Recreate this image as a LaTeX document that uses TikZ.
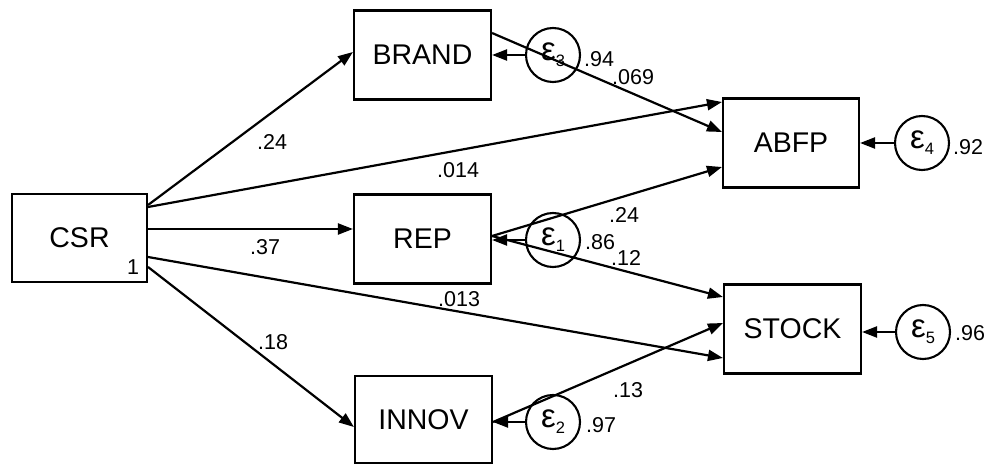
\documentclass[tikz,border=0pt]{standalone}
\usepackage{fontspec}
\setmainfont{Liberation Sans}
\usetikzlibrary{arrows.meta}

\begin{document}
\begin{tikzpicture}[x=1pt,y=-1pt,
  var/.style={draw, line width=2.1pt, minimum width=137pt, minimum height=89pt,
    inner sep=0pt, font=\fontsize{28.5}{30}\selectfont},
  err/.style={draw, circle, line width=2.1pt, minimum size=54pt, inner sep=0pt},
  coef/.style={font=\fontsize{21.5}{24}\selectfont, inner sep=0pt, anchor=west},
  path/.style={line width=2.2pt, -{Triangle[length=15pt,width=11pt]}},
]
\useasboundingbox (0,0) rectangle (999,465);

% observed variables
\node[var, minimum width=135pt, minimum height=88pt] (CSR) at (79.5,238) {CSR};
\node[var] (BRAND) at (422.5,55) {BRAND};
\node[var] (REP)   at (422.5,239) {REP};
\node[var, minimum height=87pt] (INNOV) at (423.5,419.5) {INNOV};
\node[var, minimum width=136pt] (ABFP)  at (791,143) {ABFP};
\node[var] (STOCK) at (792.5,329) {STOCK};
\node[coef] (one) at (127,267) {1};

% error terms
\newcommand{\errlabel}[1]{{\fontsize{33}{33}\selectfont ε}\raisebox{-6pt}{\fontsize{16.5}{16.5}\selectfont #1}}
\node[err] (e3) at (553,55)  {\errlabel{3}};
\node[err] (e1) at (553,240) {\errlabel{1}};
\node[err] (e2) at (553,422) {\errlabel{2}};
\node[err] (e4) at (922,143) {\errlabel{4}};
\node[err] (e5) at (923,332) {\errlabel{5}};

% paths from CSR
\draw[path] ([yshift=33pt]CSR.east) -- ([yshift=3pt]BRAND.west);
\draw[path] ([yshift=31pt]CSR.east) -- ([yshift=41pt]ABFP.west);
\draw[path] ([yshift=9pt]CSR.east)  -- ([yshift=10pt]REP.west);
\draw[path] ([yshift=-19pt]CSR.east) -- ([yshift=-29pt]STOCK.west);
\draw[path] ([yshift=-29pt]CSR.east) -- ([yshift=-7.5pt]INNOV.west);

% paths from the mediators
\draw[path] ([yshift=22pt]BRAND.east) -- ([yshift=11pt]ABFP.west);
\draw[path] ([yshift=3pt]REP.east) -- ([yshift=-24pt]ABFP.west);
\draw[path] ([yshift=3pt]REP.east) -- ([yshift=32pt]STOCK.west);
\draw[path] ([yshift=-2.5pt]INNOV.east) -- ([yshift=6pt]STOCK.west);

% error paths
\draw[path] (e3) -- (BRAND.east |- e3);
\draw[path] (e1) -- (REP.east |- e1);
\draw[path] (e2) -- (INNOV.east |- e2);
\draw[path] (e4) -- (ABFP.east |- e4);
\draw[path] (e5) -- (STOCK.east |- e5);

% coefficients
\node[coef] (c1)  at (257,142) {.24};
\node[coef] (c2)  at (437,170) {.014};
\node[coef] (c3)  at (250,247) {.37};
\node[coef] (c4)  at (438,299) {.013};
\node[coef] (c5)  at (258,342) {.18};
\node[coef] (c6)  at (584,59)  {.94};
\node[coef] (c7)  at (612,77)  {.069};
\node[coef] (c8)  at (609,215) {.24};
\node[coef] (c9)  at (585,242) {.86};
\node[coef] (c10) at (611,258) {.12};
\node[coef] (c11) at (613,390) {.13};
\node[coef] (c12) at (586,425) {.97};
\node[coef] (c13) at (953,147) {.92};
\node[coef] (c14) at (955,333) {.96};
\end{tikzpicture}
\end{document}
